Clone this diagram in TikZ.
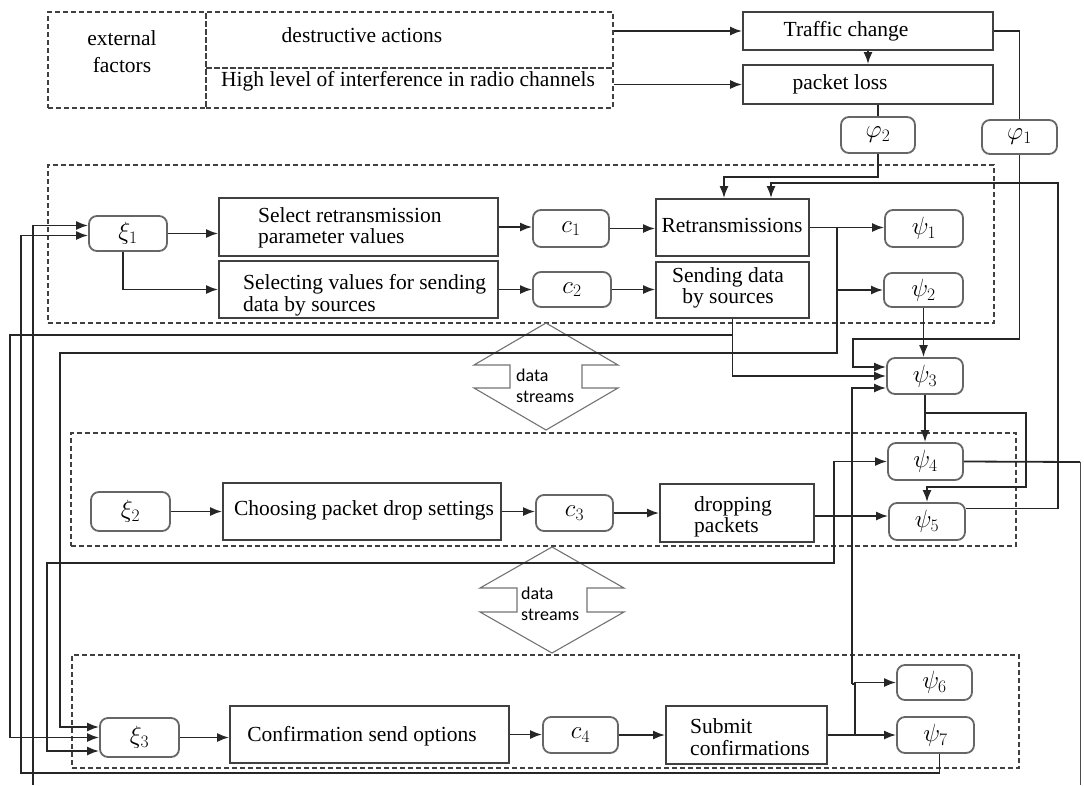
\documentclass[tikz,border=0pt]{standalone}
\usepackage{fix-cm}
\usepackage{fontspec}
\setmainfont{Liberation Serif}
\newfontfamily\calfont{Carlito}
\usetikzlibrary{arrows.meta}
\begin{document}
\begin{tikzpicture}[x=1pt,y=-1pt,
  arr/.style={-{Latex[length=12pt,width=9pt]}},
  darr/.style={{Latex[length=12pt,width=9pt]}-{Latex[length=12pt,width=9pt]}},
  ln/.style={line width=1.8pt, draw=black!85},
  sq/.style={draw=black!75, line width=1.8pt, inner sep=0pt},
  rbox/.style={draw=black!60, line width=1.8pt, rounded corners=8pt, inner sep=0pt, font=\fontsize{25}{27}\selectfont},
  sec/.style={draw=black!75, line width=1.3pt, dash pattern=on 5pt off 3pt, inner sep=0pt},
  txt/.style={inner sep=0pt, font=\fontsize{21.5}{21.5}\selectfont},
  dstxt/.style={inner sep=0pt, font=\calfont\fontsize{18}{21}\selectfont, align=left, anchor=west},
  dsa/.style={draw=black!55, line width=1.1pt}
]
\useasboundingbox (0,0) rectangle (1084,785);

% ---------- top block ----------
\node[sec, minimum width=158pt, minimum height=96pt] (ext) at (127,60) {};
\node[sec, minimum width=407pt, minimum height=56pt] (da) at (409.5,40) {};
\node[sec, minimum width=407pt, minimum height=40pt] (hl) at (409.5,88) {};
\node[txt, align=center] (extT) at (122,52) {external\\[5.5pt]factors};
\node[txt] (daT) at (362,35) {destructive actions};
\node[txt] (hlT) at (408,81) {High level of interference in radio channels};

\node[sq, minimum width=250pt, minimum height=38pt] (tc) at (868,31) {};
\node[txt] (tcT) at (846,31) {Traffic change};
\node[sq, minimum width=250pt, minimum height=39pt] (pl) at (868,84.5) {};
\node[txt] (plT) at (840,84) {packet loss};

\node[rbox, minimum width=74pt, minimum height=36pt] (phi2) at (878,135) {$\varphi_2$};
\node[rbox, minimum width=75pt, minimum height=34pt] (phi1) at (1019.5,137) {$\varphi_1$};

% ---------- sections ----------
\node[sec, minimum width=946pt, minimum height=158pt] (s1) at (521,244) {};
\node[sec, minimum width=945pt, minimum height=113pt] (s2) at (543.5,489.5) {};
\node[sec, minimum width=947pt, minimum height=113pt] (s3) at (545.5,711.5) {};

% data streams arrows
\draw[dsa] (546,323) -- (618,365) -- (582,365) -- (582,388) -- (618,388) -- (546,430)
  -- (474,388) -- (510,388) -- (510,365) -- (474,365) -- cycle;
\node[dstxt] (ds1) at (516,386) {data\\streams};
\draw[dsa] (552,547) -- (624,588) -- (587,588) -- (587,612) -- (624,612) -- (552,653)
  -- (480,612) -- (517,612) -- (517,588) -- (480,588) -- cycle;
\node[dstxt] (ds2) at (521,604) {data\\streams};

% ---------- section 1 ----------
\node[rbox, minimum width=78pt, minimum height=35pt] (xi1) at (128,233.5) {$\xi_1$};
\node[sq, minimum width=279pt, minimum height=58pt] (sel) at (358.5,227) {};
\node[txt, align=left, anchor=west] (selT) at (258,228) {Select retransmission\\parameter values};
\node[sq, minimum width=279pt, minimum height=57pt] (sing) at (358.5,289.5) {};
\node[txt, align=left, anchor=west] (singT) at (243,295) {Selecting values for sending\\data by sources};
\node[rbox, minimum width=76pt, minimum height=37pt] (c1) at (571,228.5) {$c_1$};
\node[rbox, minimum width=78pt, minimum height=35pt] (c2) at (572,289.5) {$c_2$};
\node[sq, minimum width=153pt, minimum height=57pt] (rt) at (732.5,227.5) {};
\node[txt] (rtT) at (732,225) {Retransmissions};
\node[sq, minimum width=153pt, minimum height=56pt] (sd) at (732.5,290) {};
\node[txt, align=center] (sdT) at (728,288) {Sending data\\by sources};
\node[rbox, minimum width=78pt, minimum height=37pt] (psi1) at (924,228.5) {$\psi_1$};
\node[rbox, minimum width=79pt, minimum height=34pt] (psi2) at (923.5,290) {$\psi_2$};
\node[rbox, minimum width=76pt, minimum height=36pt] (psi3) at (925,376) {$\psi_3$};

% ---------- section 2 ----------
\node[rbox, minimum width=79pt, minimum height=39pt] (xi2) at (130.5,511.5) {$\xi_2$};
\node[sq, minimum width=278pt, minimum height=57pt] (ch) at (362,511.5) {};
\node[txt] (chT) at (364,510) {Choosing packet drop settings};
\node[rbox, minimum width=77pt, minimum height=36pt] (c3) at (574.5,513) {$c_3$};
\node[sq, minimum width=154pt, minimum height=58pt] (dp) at (737,513) {};
\node[txt, align=left, anchor=west] (dpT) at (694,517) {dropping\\packets};
\node[rbox, minimum width=75pt, minimum height=37pt] (psi4) at (925.5,461.5) {$\psi_4$};
\node[rbox, minimum width=76pt, minimum height=37pt] (psi5) at (927,521.5) {$\psi_5$};

% ---------- section 3 ----------
\node[rbox, minimum width=79pt, minimum height=39pt] (xi3) at (139.5,737.5) {$\xi_3$};
\node[sq, minimum width=279pt, minimum height=57pt] (cf) at (369.5,734.5) {};
\node[txt] (cfT) at (362,736) {Confirmation send options};
\node[rbox, minimum width=75pt, minimum height=36pt] (c4) at (580.5,735) {$c_4$};
\node[sq, minimum width=161pt, minimum height=58pt] (sb) at (746.5,735) {};
\node[txt, align=left, anchor=west] (sbT) at (690,737) {Submit\\confirmations};
\node[rbox, minimum width=75pt, minimum height=35pt] (psi6) at (934.5,682.5) {$\psi_6$};
\node[rbox, minimum width=77pt, minimum height=36pt] (psi7) at (935.5,735) {$\psi_7$};

% ---------- connectors: top ----------
\draw[ln,arr] (da.east |- tc.west) -- (tc.west);
\draw[ln,arr] (hl.east |- pl.west) -- (pl.west);
\draw[ln,arr] (tc.south) -- (pl.north);
\draw[ln] (tc.east) -| (phi1.north);
\draw[ln] (phi2.north |- pl.south) -- (phi2.north);
\coordinate (r1) at (724,177);
\draw[ln,arr] (phi2.south) |- (r1) -- (r1 |- rt.north);
\coordinate (e5) at (1058,183);
\coordinate (r2) at (771,183);
\draw[ln,arr] ([yshift=13pt]psi5.east) -| (e5) -- (r2) -- (r2 |- rt.north);
\coordinate (p1) at (853,339);
\draw[ln,arr] (phi1.south) |- (p1) |- ([yshift=9pt]psi3.west);

% ---------- connectors: section 1 ----------
\draw[ln,arr] (xi1.east) -- (xi1.east -| sel.west);
\draw[ln,arr] ([xshift=-5pt]xi1.south) |- (sing.west);
\draw[ln,arr] (sel.east) -- (sel.east -| c1.west);
\draw[ln,arr] (sing.east) -- (sing.east -| c2.west);
\draw[ln,arr] (c1.east) -- (c1.east -| rt.west);
\draw[ln,arr] (c2.east) -- (c2.east -| sd.west);
\draw[ln,arr] (rt.east) -- (rt.east -| psi1.west);
\coordinate (j1) at (837,227.5);
\draw[ln,arr] (j1) |- (psi2.west);
\coordinate (j1b) at (837,353);
\coordinate (l60) at (60,353);
\draw[ln,arr] (j1) -- (j1b) -- (l60) |- ([yshift=10.5pt]xi3.west);
\draw[ln,arr] (sd.south) |- (psi3.west);
\coordinate (l10) at (10,335);
\draw[ln,arr] (sd.south |- l10) -- (l10) |- (xi3.west);
\draw[ln,arr] (psi2.south) -- (psi2.south |- psi3.north);

% ---------- connectors: right column ----------
\draw[ln,arr] (psi3.south) -- (psi3.south |- psi4.north);
\coordinate (k1) at (925,413);
\coordinate (k2) at (1026,413);
\coordinate (k3) at (1026,487);
\draw[ln,arr] (k1) -- (k2) -- (k3) -| (psi5.north);
\coordinate (q1) at (47,563);
\coordinate (q2) at (834,563);
\draw[ln,darr] ([yshift=-13.5pt]xi3.west) -| (q1) -- (q2) |- (psi4.west);
\coordinate (rr1) at (1080,462);
\coordinate (rr2) at (1080,785);
\draw[ln] (psi4.east) -- (rr1);
\draw[line width=1pt, black!70] (rr1) -- (rr2);

% ---------- connectors: section 2 ----------
\draw[ln,arr] (xi2.east) -- (xi2.east -| ch.west);
\draw[ln,arr] (ch.east) -- (ch.east -| c3.west);
\draw[ln,arr] (c3.east) -- (c3.east -| dp.west);
\draw[ln,arr] ([yshift=-3pt]dp.east) -- ([yshift=-3pt]dp.east -| psi5.west);

% ---------- connectors: section 3 ----------
\draw[ln,arr] (xi3.east) -- (xi3.east -| cf.west);
\draw[ln,arr] (cf.east) -- (cf.east -| c4.west);
\draw[ln,arr] (c4.east) -- (c4.east -| sb.west);
\coordinate (j3) at (855,735);
\draw[ln,arr] (sb.east) -- (sb.east -| psi7.west);
\draw[ln,arr] (j3) |- (psi6.west);
\coordinate (j4) at (852,684);
\draw[ln,arr] (j4) |- ([yshift=-12pt]psi3.west);
\draw[ln] (j4) -- (j3 |- j4);
\coordinate (b1) at (21,773);
\draw[ln,arr] ([xshift=4pt]psi7.south) |- (b1) |- ([yshift=-2pt]xi1.west);
\coordinate (b2) at (33,785);
\draw[ln,arr] (b2) |- ([yshift=8pt]xi1.west);
\end{tikzpicture}
\end{document}
